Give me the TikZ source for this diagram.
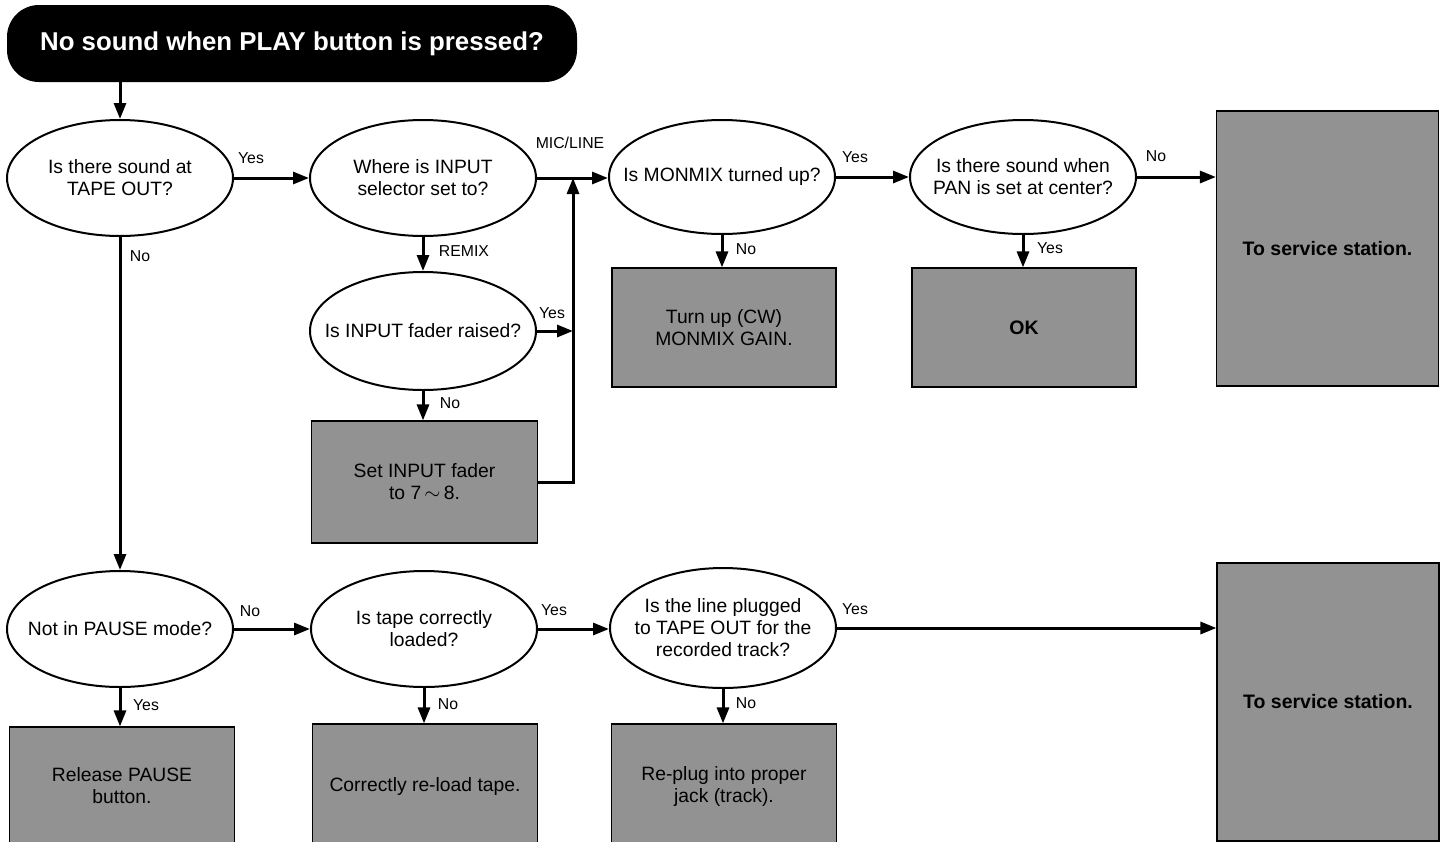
\documentclass[tikz,border=0pt]{standalone}
\usepackage{fontspec}
\setmainfont{Liberation Sans}
\usetikzlibrary{shapes.geometric,arrows.meta}
\definecolor{boxgray}{RGB}{146,146,146}
\begin{document}
\begin{tikzpicture}[x=1pt,y=-1pt,
  q/.style={ellipse, draw, line width=2pt, inner sep=0pt, minimum width=226pt, minimum height=116pt},
  qt/.style={align=center, inner sep=0pt, font=\fontsize{19.3}{22}\selectfont},
  act/.style={rectangle, draw, line width=1.2pt, fill=boxgray, inner sep=0pt, align=center, font=\fontsize{19.3}{22}\selectfont},
  bld/.style={font=\bfseries\fontsize{19.5}{22}\selectfont},
  arr/.style={line width=3pt, -{Triangle[length=16pt,width=12pt]}},
  lbl/.style={font=\fontsize{15.8}{17}\selectfont, inner sep=0pt}]
\clip (0,0) rectangle (1450,841);
\fill[white] (0,0) rectangle (1450,841);

% title
\node[fill=black, rounded corners=32pt, minimum width=570pt, minimum height=77pt, inner sep=0pt, text=white, font=\bfseries\fontsize{25.8}{28}\selectfont] (title) at (292,43.5) {No sound when PLAY button is pressed?};

% row 1 questions
\node[q, label={[qt]center:{Is there sound at\\TAPE OUT?}}] (e1) at (120,178) {};
\node[q, label={[qt]center:{Where is INPUT\\selector set to?}}] (e2) at (423,178) {};
\node[q, minimum height=114pt, label={[qt]center:{Is MONMIX turned up?}}] (e3) at (722,177) {};
\node[q, minimum height=114pt, label={[qt]center:{Is there sound when\\PAN is set at center?}}] (e5) at (1023,177) {};
\node[q, minimum height=118pt, label={[qt]center:{Is INPUT fader raised?}}] (e4) at (423,331) {};

% row 1 actions
\node[act, minimum width=226pt, minimum height=122pt] (b1) at (424.5,482) {Set INPUT fader\\to 7\,$\sim$\,8.};
\node[act, minimum width=224pt, minimum height=119pt] (b2) at (724,327.5) {Turn up (CW)\\MONMIX GAIN.};
\node[act, bld, minimum width=224pt, minimum height=119pt] (b3) at (1024,327.5) {OK};
\node[act, bld, minimum width=222pt, minimum height=275pt] (s1) at (1327.5,248.5) {To service station.};

% row 2 questions
\node[q, label={[qt]center:{Not in PAUSE mode?}}] (e6) at (120,629) {};
\node[q, label={[qt]center:{Is tape correctly\\loaded?}}] (e7) at (424,629) {};
\node[q, minimum height=120pt, label={[qt]center:{Is the line plugged\\to TAPE OUT for the\\recorded track?}}] (e8) at (723,628) {};

% row 2 actions
\node[act, bld, minimum width=222pt, minimum height=278pt] (s2) at (1328,702) {To service station.};
\node[act, minimum width=225pt, minimum height=118pt] (b4) at (122,786) {Release PAUSE\\button.};
\node[act, minimum width=225pt, minimum height=124pt] (b5) at (425,786) {Correctly re-load tape.};
\node[act, minimum width=225pt, minimum height=124pt] (b6) at (724,786) {Re-plug into proper\\jack (track).};

\coordinate (j) at (573,178);

% connectors
\draw[arr] (title.south -| e1) -- (e1.north);
\draw[arr] (e1) -- (e2);
\draw[arr] (e2.east) -- (e2.east -| e3.west);
\draw[arr] (b1.east) -| (j);
\draw[arr] (e2.south) -- (e4.north);
\draw[arr] (e4.east) -- (e4.east -| j);
\draw[arr] (e4.south) -- (e4.south |- b1.north);
\draw[arr] (e3) -- (e5);
\draw[arr] (e3.south) -- (e3.south |- b2.north);
\draw[arr] (e5.south) -- (e5.south |- b3.north);
\draw[arr] (e5.east) -- (e5.east -| s1.west);
\draw[arr] (e1.south) -- (e6.north);
\draw[arr] (e6) -- (e7);
\draw[arr] (e7.east) -- (e7.east -| e8.west);
\draw[arr] (e8.east) -- (e8.east -| s2.west);
\draw[arr] (e6.south) -- (e6.south |- b4.north);
\draw[arr] (e7.south) -- (e7.south |- b5.north);
\draw[arr] (e8.south) -- (e8.south |- b6.north);

% labels
\node[lbl] (l1) at (251,158) {Yes};
\node[lbl] (l2) at (570,143) {MIC/LINE};
\node[lbl] (l3) at (140,256) {No};
\node[lbl] (l4) at (464,251) {REMIX};
\node[lbl] (l5) at (552,313) {Yes};
\node[lbl] (l6) at (450,403) {No};
\node[lbl] (l7) at (855,157) {Yes};
\node[lbl] (l8) at (746,249) {No};
\node[lbl] (l9) at (1156,156) {No};
\node[lbl] (l10) at (1050,248) {Yes};
\node[lbl] (l11) at (250,611) {No};
\node[lbl] (l12) at (146,705) {Yes};
\node[lbl] (l13) at (554,610) {Yes};
\node[lbl] (l14) at (448,704) {No};
\node[lbl] (l15) at (855,609) {Yes};
\node[lbl] (l16) at (746,703) {No};
\end{tikzpicture}
\end{document}
